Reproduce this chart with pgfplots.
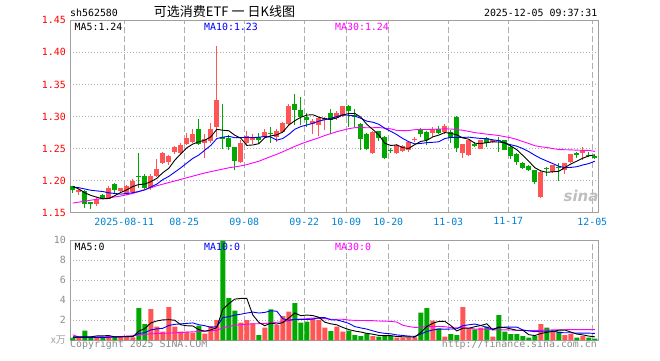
\documentclass[border=0pt]{standalone}
\usepackage{fontspec}
\setmainfont{DejaVu Sans}
\setmonofont{DejaVu Sans Mono}
\newfontfamily\cjk{Noto Sans CJK SC}
\usepackage{pgfplots}
\pgfplotsset{compat=1.18}
\usepackage{pgfplotstable}

\definecolor{cred}{RGB}{255,85,85}
\definecolor{cgreen}{RGB}{0,168,0}
\definecolor{cblue}{RGB}{0,0,255}
\definecolor{cmag}{RGB}{255,0,255}
\definecolor{cdate}{RGB}{0,130,210}
\definecolor{cborder}{RGB}{160,160,160}
\definecolor{cgrid}{RGB}{175,175,175}
\definecolor{cgray}{RGB}{140,140,140}
\newcommand\mono{\fontsize{9.9}{10}\selectfont\ttfamily}

% red candles: open < close
\pgfplotstableread{
i o h l c
1 1.183 1.187 1.178 1.186
4 1.163 1.174 1.160 1.172
6 1.172 1.191 1.171 1.189
8 1.184 1.189 1.182 1.188
9 1.179 1.193 1.178 1.192
10 1.183 1.203 1.179 1.199
13 1.188 1.210 1.186 1.207
14 1.207 1.233 1.206 1.218
15 1.228 1.244 1.226 1.243
16 1.229 1.240 1.224 1.239
17 1.244 1.254 1.242 1.253
18 1.243 1.258 1.242 1.255
19 1.257 1.274 1.256 1.266
20 1.260 1.281 1.259 1.272
22 1.258 1.273 1.236 1.265
23 1.262 1.290 1.259 1.281
24 1.284 1.410 1.268 1.325
28 1.229 1.263 1.228 1.258
29 1.258 1.278 1.254 1.269
30 1.264 1.273 1.257 1.268
32 1.268 1.280 1.266 1.276
34 1.268 1.281 1.260 1.277
35 1.276 1.291 1.274 1.290
36 1.289 1.320 1.286 1.317
40 1.289 1.296 1.273 1.293
41 1.286 1.299 1.269 1.298
42 1.294 1.300 1.279 1.298
44 1.297 1.308 1.294 1.306
45 1.301 1.317 1.299 1.316
50 1.243 1.278 1.242 1.276
54 1.243 1.257 1.242 1.255
55 1.246 1.255 1.245 1.254
56 1.247 1.262 1.244 1.260
57 1.2635 1.268 1.260 1.265
60 1.274 1.284 1.268 1.281
62 1.276 1.288 1.273 1.285
65 1.243 1.257 1.236 1.257
66 1.240 1.264 1.238 1.264
68 1.250 1.264 1.249 1.263
70 1.260 1.265 1.259 1.264
78 1.175 1.216 1.173 1.213
80 1.213 1.225 1.212 1.224
82 1.216 1.228 1.211 1.227
83 1.229 1.242 1.228 1.241
85 1.243 1.253 1.232 1.247
}\redc

% green candles: open > close
\pgfplotstableread{
i o h l c
0 1.191 1.192 1.180 1.186
2 1.184 1.185 1.158 1.164
3 1.166 1.167 1.156 1.163
5 1.177 1.179 1.171 1.173
7 1.195 1.196 1.180 1.186
11 1.2065 1.243 1.189 1.205
12 1.207 1.210 1.187 1.189
21 1.280 1.296 1.255 1.257
25 1.268 1.320 1.250 1.265
26 1.267 1.271 1.248 1.253
27 1.253 1.253 1.216 1.230
31 1.268 1.275 1.257 1.263
33 1.275 1.284 1.259 1.273
37 1.319 1.335 1.286 1.310
38 1.310 1.330 1.286 1.300
39 1.300 1.305 1.284 1.294
43 1.305 1.311 1.273 1.294
46 1.316 1.318 1.284 1.309
47 1.302 1.312 1.284 1.299
48 1.288 1.290 1.248 1.265
49 1.273 1.274 1.247 1.250
51 1.277 1.278 1.262 1.266
52 1.268 1.269 1.233 1.235
53 1.2485 1.251 1.243 1.247
58 1.281 1.282 1.268 1.272
59 1.276 1.277 1.255 1.263
61 1.281 1.285 1.273 1.274
63 1.276 1.279 1.258 1.266
64 1.300 1.301 1.245 1.251
67 1.257 1.260 1.252 1.254
69 1.266 1.268 1.253 1.258
71 1.264 1.268 1.245 1.262
72 1.263 1.264 1.248 1.248
73 1.253 1.255 1.234 1.238
74 1.242 1.243 1.225 1.229
75 1.228 1.229 1.218 1.220
76 1.223 1.224 1.215 1.216
77 1.216 1.217 1.194 1.198
79 1.2195 1.221 1.207 1.218
81 1.222 1.228 1.200 1.220
84 1.243 1.244 1.236 1.240
86 1.240 1.244 1.237 1.238
87 1.238 1.240 1.234 1.235
}\greenc

% price moving averages MA5, MA10
\pgfplotstableread{
i m5 m10
0 1.1910 1.1900
1 1.1870 1.1890
2 1.1810 1.1870
3 1.1770 1.1850
4 1.1742 1.1840
5 1.1716 1.1830
6 1.1722 1.1810
7 1.1766 1.1800
8 1.1816 1.1790
9 1.1856 1.1799
10 1.1908 1.1812
11 1.1940 1.1831
12 1.1946 1.1856
13 1.1984 1.1900
14 1.2036 1.1946
15 1.2124 1.2016
16 1.2192 1.2066
17 1.2320 1.2133
18 1.2416 1.2200
19 1.2512 1.2274
20 1.2570 1.2347
21 1.2606 1.2399
22 1.2630 1.2475
23 1.2682 1.2549
24 1.2800 1.2656
25 1.2786 1.2678
26 1.2778 1.2692
27 1.2708 1.2669
28 1.2662 1.2672
29 1.2550 1.2675
30 1.2556 1.2671
31 1.2576 1.2677
32 1.2668 1.2688
33 1.2698 1.2680
34 1.2714 1.2632
35 1.2758 1.2657
36 1.2866 1.2721
37 1.2934 1.2801
38 1.2988 1.2843
39 1.3022 1.2868
40 1.3028 1.2893
41 1.2990 1.2928
42 1.2966 1.2950
43 1.2954 1.2971
44 1.2978 1.3000
45 1.3024 1.3026
46 1.3046 1.3018
47 1.3048 1.3007
48 1.2990 1.2972
49 1.2878 1.2928
50 1.2798 1.2911
51 1.2712 1.2879
52 1.2584 1.2816
53 1.2548 1.2769
54 1.2558 1.2718
55 1.2514 1.2656
56 1.2502 1.2607
57 1.2562 1.2573
58 1.2612 1.2580
59 1.2628 1.2593
60 1.2682 1.2598
61 1.2710 1.2606
62 1.2750 1.2656
63 1.2738 1.2675
64 1.2714 1.2671
65 1.2666 1.2674
66 1.2646 1.2678
67 1.2584 1.2667
68 1.2578 1.2658
69 1.2592 1.2653
70 1.2606 1.2636
71 1.2602 1.2624
72 1.2590 1.2587
73 1.2540 1.2559
74 1.2482 1.2537
75 1.2394 1.2500
76 1.2302 1.2452
77 1.2202 1.2396
78 1.2152 1.2346
79 1.2130 1.2306
80 1.2138 1.2266
81 1.2146 1.2224
82 1.2204 1.2203
83 1.2260 1.2206
84 1.2304 1.2217
85 1.2350 1.2244
86 1.2386 1.2266
87 1.2402 1.2303
}\pma

% price MA30
\pgfplotstableread{
i m30
0 1.165
2 1.168
4 1.171
6 1.173
8 1.176
10 1.180
12 1.186
14 1.192
16 1.197
18 1.202
20 1.207
22 1.212
24 1.216
26 1.220
28 1.223
29 1.2249
30 1.2277
31 1.2302
32 1.2340
33 1.2376
34 1.2411
35 1.2450
36 1.2493
37 1.2534
38 1.2572
39 1.2606
40 1.2637
41 1.2668
42 1.2704
43 1.2733
44 1.2763
45 1.2787
46 1.2810
47 1.2826
48 1.2829
49 1.2824
50 1.2825
51 1.2828
52 1.2818
53 1.2807
54 1.2783
55 1.2780
56 1.2782
57 1.2794
58 1.2798
59 1.2796
60 1.2801
61 1.2804
62 1.2807
63 1.2805
64 1.2796
65 1.2785
66 1.2768
67 1.2749
68 1.2737
69 1.2725
70 1.2715
71 1.2703
72 1.2686
73 1.2668
74 1.2642
75 1.2610
76 1.2579
77 1.2545
78 1.2528
79 1.2517
80 1.2500
81 1.2485
82 1.2482
83 1.2480
84 1.2475
85 1.2473
86 1.2472
87 1.2455
}\pmt

% volumes
\pgfplotstableread{
i v
1 0.30
4 0.37
6 0.43
8 0.37
9 0.37
10 0.30
13 3.13
14 1.36
15 0.86
16 3.33
17 1.36
18 0.86
19 0.86
20 0.76
22 0.66
23 1.43
24 2.03
28 1.76
29 2.03
30 1.70
32 1.26
34 1.53
35 2.43
36 2.86
40 2.16
41 2.03
42 1.26
44 1.36
45 0.86
50 0.43
54 0.26
55 0.30
56 0.30
57 0.30
60 1.96
62 0.36
65 3.33
66 1.20
68 1.26
70 0.36
78 1.63
80 0.86
82 0.53
83 0.63
85 0.43
}\redv

\pgfplotstableread{
i v
0 0.25
2 0.97
3 0.30
5 0.30
7 0.30
11 3.23
12 1.63
21 1.46
25 9.95
26 4.23
27 2.96
31 0.53
33 3.10
37 3.73
38 1.76
39 1.86
43 0.93
46 0.96
47 0.53
48 0.43
49 0.70
51 0.36
52 0.43
53 0.43
58 2.76
59 3.23
61 1.20
63 0.63
64 0.53
67 1.10
69 1.36
71 2.53
72 0.86
73 0.63
74 0.63
75 0.43
76 0.26
77 0.43
79 1.26
81 0.86
84 0.26
86 0.26
87 0.16
}\greenv

% volume MA5, MA10
\pgfplotstableread{
i v5 v10
0 0.35 0.30
1 0.35 0.30
2 0.35 0.30
3 0.35 0.30
4 0.438 0.30
5 0.448 0.30
6 0.474 0.30
7 0.340 0.32
8 0.354 0.34
9 0.354 0.396
10 0.354 0.401
11 0.914 0.694
12 1.180 0.760
13 1.732 1.043
14 1.930 1.142
15 2.042 1.198
16 2.062 1.488
17 2.008 1.594
18 1.554 1.643
19 1.454 1.692
20 1.434 1.738
21 1.060 1.561
22 0.920 1.464
23 1.034 1.294
24 1.268 1.361
25 3.106 2.270
26 3.660 2.360
27 4.120 2.520
28 4.186 2.610
29 4.186 2.727
30 2.536 2.821
31 1.796 2.728
32 1.456 2.788
33 1.724 2.955
34 1.624 2.905
35 1.770 2.153
36 2.236 2.016
37 2.730 2.093
38 2.462 2.093
39 2.528 2.076
40 2.474 2.122
41 2.308 2.272
42 1.814 2.272
43 1.648 2.055
44 1.548 2.038
45 1.288 1.881
46 1.074 1.691
47 0.928 1.371
48 0.828 1.238
49 0.696 1.122
50 0.610 0.949
51 0.490 0.782
52 0.470 0.699
53 0.470 0.649
54 0.382 0.539
55 0.356 0.483
56 0.344 0.417
57 0.318 0.394
58 0.784 0.627
59 1.378 0.880
60 1.710 1.033
61 1.890 1.117
62 1.902 1.110
63 1.476 1.130
64 0.936 1.157
65 1.210 1.460
66 1.210 1.550
67 1.358 1.630
68 1.484 1.480
69 1.650 1.293
70 1.056 1.133
71 1.322 1.266
72 1.274 1.316
73 1.148 1.316
74 1.002 1.326
75 1.016 1.036
76 0.562 0.942
77 0.476 0.875
78 0.676 0.912
79 0.802 0.902
80 0.888 0.952
81 1.008 0.785
82 1.028 0.752
83 0.828 0.752
84 0.628 0.715
85 0.542 0.715
86 0.422 0.715
87 0.348 0.688
}\vma

% volume MA30
\pgfplotstableread{
i v30
0 0.55
1 0.33
4 0.33
8 0.38
10 0.45
12 0.60
14 0.68
16 0.72
18 0.78
20 0.85
22 0.90
24 1.00
25 1.25
26 1.40
27 1.50
28 1.57
29 1.605
30 1.653
31 1.661
32 1.671
33 1.764
34 1.803
35 1.874
36 1.955
37 2.069
38 2.115
39 2.165
40 2.227
41 2.187
42 2.175
43 2.101
44 2.101
45 2.101
46 2.022
47 1.995
48 1.980
49 1.975
50 1.964
51 1.927
52 1.920
53 1.886
54 1.827
55 1.506
56 1.375
57 1.286
58 1.319
59 1.359
60 1.368
61 1.390
62 1.360
63 1.278
64 1.245
65 1.275
66 1.219
67 1.132
68 1.115
69 1.098
70 1.038
71 1.055
72 1.042
73 1.032
74 1.007
75 0.993
76 0.970
77 0.966
78 1.006
79 1.025
80 1.039
81 1.056
82 1.059
83 1.066
84 1.066
85 1.070
86 1.069
87 1.064
}\vmt

\pgfplotsset{
  klinebase/.style={
    scale only axis, width=528pt,
    xmin=-0.4667, xmax=87.5333,
    axis line style={cborder, line width=1pt},
    xtick={8.5833,18.5833,28.5833,38.5833,45.5833,52.5833,62.5833,72.5833,86.5833},
    major tick length=0pt,
    xmajorgrids, ymajorgrids,
    x grid style={cgrid, dash pattern=on 6pt off 3pt, line width=0.9pt},
    y grid style={cgrid, dash pattern=on 1pt off 2pt, line width=0.9pt},
    y tick label style={font=\mono, anchor=east, inner sep=0pt, xshift=-4pt},
  },
  wick/.style={draw=none, mark=none, forget plot,
    error bars/.cd, y dir=plus, y explicit, error mark=none,
    error bar style={draw=#1, line width=1pt, solid}},
  body/.style={draw=none, mark=none, forget plot,
    error bars/.cd, y dir=plus, y explicit, error mark=none,
    error bar style={draw=#1, line width=5pt, solid}},
}

\begin{document}
\begin{tikzpicture}[x=1pt,y=1pt]
\useasboundingbox (0,0) rectangle (660,360);

\begin{axis}[klinebase,
  at={(70pt,147.3pt)}, anchor=south west, height=192.4pt,
  ymin=1.15, ymax=1.45,
  xticklabels={2025-08-11,08-25,09-08,09-22,10-09,10-20,11-03,11-17,12-05},
  ytick={1.15,1.20,1.25,1.30,1.35,1.40,1.45},
  yticklabels={1.15,1.20,1.25,1.30,1.35,1.40,1.45},
  x tick label style={font=\mono, text=cdate, anchor=north, inner sep=0pt, yshift=-4.8pt},
  y tick label style={text=red},
]
\addplot[wick=cred] table[x=i, y=l, y error plus expr=\thisrow{h}-\thisrow{l}] {\redc};
\addplot[body=cred] table[x=i, y=o, y error plus expr=\thisrow{c}-\thisrow{o}] {\redc};
\addplot[wick=cgreen] table[x=i, y=l, y error plus expr=\thisrow{h}-\thisrow{l}] {\greenc};
\addplot[body=cgreen] table[x=i, y=c, y error plus expr=\thisrow{o}-\thisrow{c}] {\greenc};
\addplot[cmag, line width=0.9pt, mark=none] table[x=i, y=m30] {\pmt};
\addplot[cblue, line width=0.9pt, mark=none] table[x=i, y=m10] {\pma};
\addplot[black, line width=0.9pt, mark=none] table[x=i, y=m5] {\pma};
\end{axis}

\begin{axis}[klinebase,
  at={(70pt,19.7pt)}, anchor=south west, height=100pt,
  ymin=0, ymax=10,
  xticklabels={},
  ytick={2,4,6,8,10},
  yticklabels={2,4,6,8,10},
  y tick label style={text=cgray},
]
\addplot[ybar, bar width=5pt, bar shift=0pt, fill=cred, draw=none] table[x=i, y=v] {\redv};
\addplot[ybar, bar width=5pt, bar shift=0pt, fill=cgreen, draw=none] table[x=i, y=v] {\greenv};
\addplot[cmag, line width=0.9pt, mark=none] table[x=i, y=v30] {\vmt};
\addplot[cblue, line width=0.9pt, mark=none] table[x=i, y=v10] {\vma};
\addplot[black, line width=0.9pt, mark=none] table[x=i, y=v5] {\vma};
\end{axis}

% texts
\node[anchor=base west, inner sep=0pt, font=\mono] at (70,343.3) {sh562580};
\node[anchor=base, inner sep=0pt, font=\cjk\fontsize{13}{13}\selectfont] at (224.5,343.6) {可选消费ETF\hspace{3pt}一\hspace{3pt}日K线图};
\node[anchor=base east, inner sep=0pt, font=\mono] at (597.5,343.3) {2025-12-05 09:37:31};
\node[anchor=base west, inner sep=0pt, font=\mono] at (74.5,330) {MA5:1.24};
\node[anchor=base west, inner sep=0pt, font=\mono, text=cblue] at (204,330) {MA10:1.23};
\node[anchor=base west, inner sep=0pt, font=\mono, text=cmag] at (335,330) {MA30:1.24};
\node[anchor=base west, inner sep=0pt, font=\mono] at (74.5,110) {MA5:0};
\node[anchor=base west, inner sep=0pt, font=\mono, text=cblue] at (204,110) {MA10:0};
\node[anchor=base west, inner sep=0pt, font=\mono, text=cmag] at (335,110) {MA30:0};
\node[anchor=base west, inner sep=0pt, font=\mono, text=cgray] at (70,12.5) {Copyright 2025 SINA.COM};
\node[anchor=base east, inner sep=0pt, font=\mono, text=cgray] at (597,12.5) {http://finance.sina.com.cn};
\node[anchor=base east, inner sep=0pt, font=\cjk\fontsize{10}{10}\selectfont, text=cborder] at (66,17) {x万};
\node[anchor=center, inner sep=0pt, font=\fontsize{15}{15}\selectfont\bfseries\itshape, text=black!25] at (581,164) {sina};
\end{tikzpicture}
\end{document}
